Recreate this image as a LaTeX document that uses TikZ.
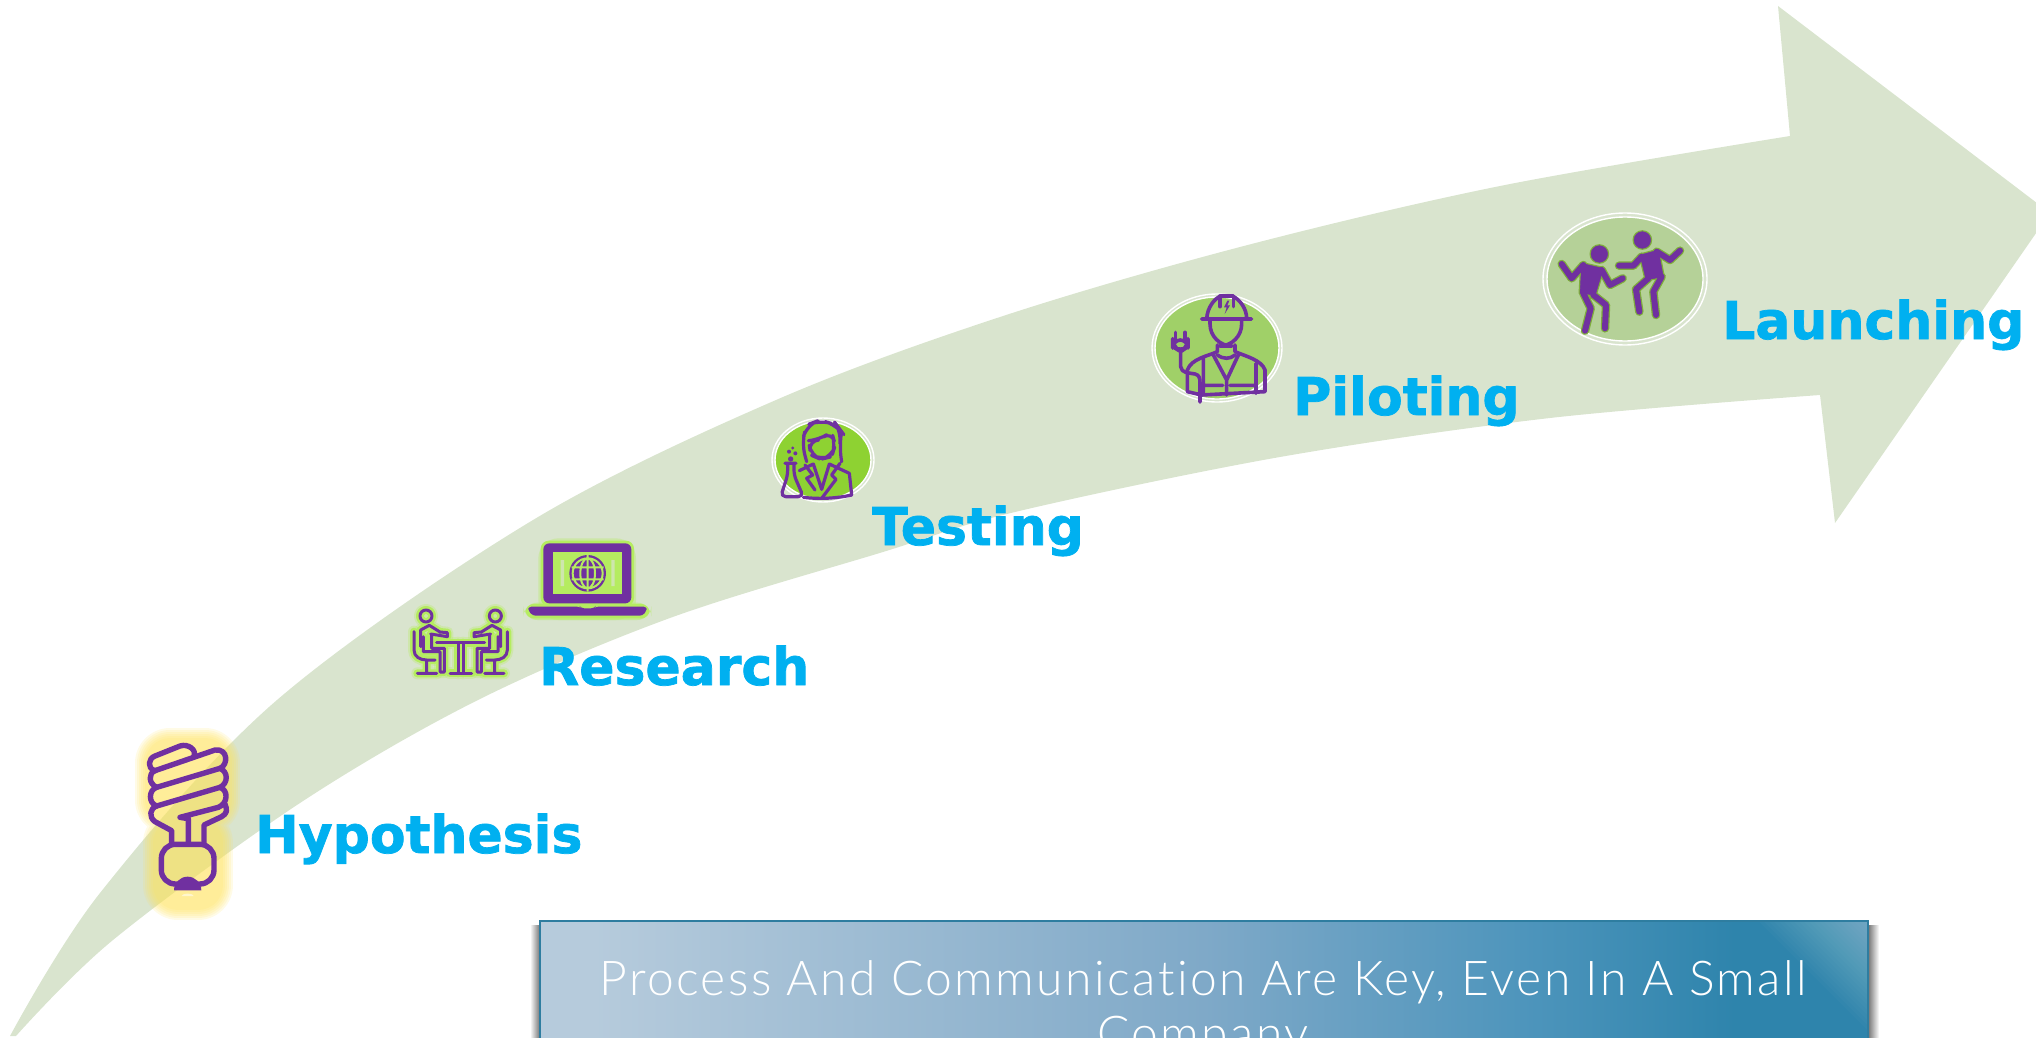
\documentclass[tikz,border=0pt]{standalone}
\usepackage{fontspec}
\setmainfont{DejaVu Sans}[BoldFont=DejaVu Sans Bold, BoldFeatures={FakeBold=1.4}]
\newfontfamily\bannerfont{Lato Light}[LetterSpace=5.0, Ligatures=CommonOff]
\definecolor{arrowgreen}{HTML}{D9E4CE}
\definecolor{iconpurple}{HTML}{7030A0}
\definecolor{labelblue}{HTML}{00B0F0}
\definecolor{glowyellow}{HTML}{FFE25A}
\definecolor{glowlime}{HTML}{B5EC60}
\definecolor{dancerolive}{HTML}{7FAE3C}
\definecolor{bannerA}{HTML}{B6CBDC}
\definecolor{bannerB}{HTML}{7FA9C8}
\definecolor{bannerC}{HTML}{4E95BC}
\definecolor{bannerD}{HTML}{2E84AC}
\definecolor{bannerline}{HTML}{2E7DA0}
\definecolor{testingfill}{HTML}{8ED232}
\definecolor{pilotingfill}{HTML}{A0D068}
\definecolor{launchingfill}{HTML}{B5D198}
\pgfdeclarehorizontalshading{bannershade}{100bp}{color(0bp)=(bannerA); color(27bp)=(bannerA); color(50bp)=(bannerB); color(62bp)=(bannerC); color(70bp)=(bannerD); color(100bp)=(bannerD)}
\tikzset{
  stagelabel/.style={anchor=base west, text=labelblue, font=\fontsize{52}{52}\selectfont\bfseries, inner sep=0pt},
  bannertext/.style={anchor=base, text=white, font=\bannerfont\fontsize{48}{55}\selectfont, inner sep=0pt},
  iconline/.style={draw=iconpurple, line width=#1, line cap=round, line join=round},
  iconline/.default=3.6pt,
  ringfill/.style={draw=white, line width=1.4pt},
  ringout/.style={draw=white, line width=1.4pt},
}
\newcommand{\sitterpath}[1]{
  \draw[#1] (108,288) circle (18);
  \draw[#1] (72,335) -- (72,390) .. controls (72,410) and (90,420) .. (110,420) -- (135,420) (110,420) -- (110,460) (82,460) -- (140,460);
  \draw[#1] (92,380) -- (92,330) -- (118,316) -- (150,336) -- (172,338) -- (172,350) -- (122,342) (100,350) -- (100,395) -- (150,395) -- (150,456) -- (163,456) -- (163,385) -- (125,385) -- (125,345);
}
\newcommand{\peopleicon}[1]{
  \sitterpath{#1}
  \begin{scope}[shift={(424,0)},xscale=-1]
  \sitterpath{#1}
  \end{scope}
  \draw[#1] (140,368) -- (284,368) (205,368) -- (205,460) (220,368) -- (220,460) (180,460) -- (245,460);
}
\newcommand{\bulbicon}[1]{
  \draw[#1] (165,212) .. controls (140,205) and (145,175) .. (165,168) -- (240,138) .. controls (265,130) and (290,150) .. (282,168);
  \draw[#1] (165,212) -- (345,150) .. controls (385,145) and (385,195) .. (360,205) .. controls (385,215) and (385,250) .. (360,262) .. controls (385,270) and (385,310) .. (355,322) -- (240,352) -- (265,356) -- (265,432);
  \draw[#1] (165,212) .. controls (145,220) and (145,250) .. (170,262) .. controls (145,270) and (145,310) .. (170,318) .. controls (150,325) and (145,350) .. (165,365) -- (215,392) -- (215,432);
  \draw[#1] (170,262) -- (360,205) (170,318) -- (360,262);
  \draw[#1] (312,432) -- (312,375) -- (365,350) .. controls (382,340) and (382,330) .. (375,312);
  \draw[#1, rounded corners=14] (184,433) -- (342,433) -- (342,552) -- (184,552) -- cycle;
}
\newcommand{\dancericon}[3]{
  \draw[draw=#1, fill=iconpurple, line width=#2, line join=round] (238,162) circle (25) (367,120) circle (25);
  \draw[draw=#1, fill=iconpurple, line width=#2, line join=round] (185,190) -- (250,205) -- (226,285) -- (180,280) -- cycle;
  \draw[draw=#1, fill=iconpurple, line width=#2, line join=round] (360,165) -- (415,150) -- (430,230) -- (378,240) -- cycle;
  \draw[draw=#1, line width=#3, line cap=round, line join=round] (125,192) -- (155,235) -- (190,195) (245,210) -- (270,255) -- (308,235)
    (190,280) -- (212,325) -- (195,392) (220,285) -- (258,315) -- (255,385);
  \draw[draw=#1, line width=#3, line cap=round, line join=round] (297,197) -- (340,197) -- (365,170) (410,155) -- (450,180) -- (480,152)
    (425,230) -- (400,275) -- (408,345) (385,235) -- (348,268) -- (358,335);
}
\begin{document}
\begin{tikzpicture}[x=1pt,y=-1pt]
\useasboundingbox (0,0) rectangle (2036,1038);
\clip (0,0) rectangle (2036,1038);

\fill[arrowgreen] plot[smooth, tension=0.55] coordinates {(10,1036) (100,893) (277,700) (533,520) (776,400) (1000,317) (1240,247) (1500,186) (1790,136)}
  -- (1778,6) -- (2050,213) -- (1835,523) -- (1820,395)
  -- plot[smooth, tension=0.55] coordinates {(1820,395) (1550,418) (1280,457) (1015,512) (883,552) (670,618) (478,700) (300,803) (113,940) (16,1036)} -- cycle;

% bulb
\begin{scope}[shift={(100,700)},scale=1/3]
\foreach \w in {70,66,62,58,54,50}{
  \draw[glowyellow, opacity=0.15, line width=\w pt, line cap=round, line join=round] (210,190) -- (315,190) -- (315,300) -- (210,300) -- cycle (235,430) -- (295,430) -- (295,555) -- (235,555) -- cycle (265,300) -- (265,430);
}
\bulbicon{iconline=5.4pt}
\fill[iconpurple] (222,571) -- (304,571) arc (0:180:41 and -41) -- cycle;
\fill[white!70!glowyellow] (245,588) -- (281,588) arc (0:180:18 and -7) -- cycle;
\end{scope}

% people and laptop
\begin{scope}[shift={(390,520)},scale=1/3]
\peopleicon{draw=glowlime, opacity=0.3, line width=12pt, line cap=round, line join=round}
\peopleicon{draw=glowlime, line width=8pt, line cap=round, line join=round}
\peopleicon{iconline=3pt}
\fill[glowlime, opacity=0.35, rounded corners=20] (445,55) rectangle (738,300);
\fill[glowlime, opacity=0.5, rounded corners=14] (400,248) rectangle (784,300);
\fill[glowlime, rounded corners=8] (452,62) rectangle (732,258);
\fill[glowlime, rounded corners=8] (407,252) rectangle (778,295);
\fill[iconpurple, rounded corners=6] (460,70) rectangle (724,250);
\fill[glowlime] (488,97) rectangle (697,222);
\fill[arrowgreen, opacity=0.7] (512,120) rectangle (522,198) (664,120) rectangle (674,198);
\fill[iconpurple, rounded corners=3] (415,260) -- (570,260) -- (574,265) -- (612,265) -- (616,260) -- (770,260) -- (770,272) -- (758,287) -- (428,287) -- (415,272) -- cycle;
\fill[iconpurple] (593,160) circle (55);
\draw[glowlime, line width=2pt] (593,160) circle (45) (593,160) ellipse (22 and 45) (593,105) -- (593,215) (545,142) -- (641,142) (545,178) -- (641,178);
\end{scope}

% testing
\draw[ringout] (823,460) ellipse (51 and 42);
\fill[ringfill, fill=testingfill] (823,460) ellipse (48 and 39);
\begin{scope}[shift={(750,400)},scale=1/3]
\draw[iconline=3.2pt, rounded corners=12] (170,185) -- (155,130) -- (170,75) -- (210,60) -- (260,75) -- (275,95) -- (268,140) -- (275,185);
\draw[iconline=3.2pt, rounded corners=10] (176,122) -- (205,120) -- (245,95) -- (256,135) -- (245,170) -- (212,178) -- (182,165) -- cycle;
\draw[iconline=3.2pt] (148,212) -- (190,192) -- (215,268) -- (238,192) -- (298,220) -- (305,285);
\draw[iconline=3.2pt] (165,195) -- (188,225) -- (170,235) -- (195,270) (270,190) -- (245,225) -- (258,238) -- (215,295);
\draw[iconline=3.2pt] (160,292) .. controls (210,298) and (260,295) .. (305,285);
\draw[iconline=3.2pt, rounded corners=5] (105,190) -- (138,190) (113,190) -- (113,225) -- (92,290) -- (160,290) -- (132,225) -- (132,190);
\fill[iconpurple] (122,177) circle (8) (117,155) circle (6) (136,160) circle (6) (128,144) circle (5);
\end{scope}

% piloting
\draw[ringout] (1217,348) ellipse (65 and 54);
\fill[ringfill, fill=pilotingfill] (1217,348) ellipse (62 and 51);
\begin{scope}[shift={(1130,280)},scale=1/3]
\draw[iconline=3.6pt] (215,117) -- (365,117) (230,117) .. controls (232,80) and (255,55) .. (272,48) -- (308,48) .. controls (330,60) and (350,85) .. (350,117);
\draw[iconline=3.6pt] (270,48) -- (270,80) (310,48) -- (310,80);
\fill[iconpurple] (292,62) -- (282,82) -- (290,82) -- (284,102) -- (300,76) -- (292,76) -- (298,62) -- cycle;
\draw[iconline=3.6pt, rounded corners=22] (240,120) -- (240,198) -- (335,198) -- (335,120);
\draw[iconline=3.6pt] (262,195) -- (262,215) .. controls (235,228) and (185,235) .. (172,270) -- (172,335) -- (215,345) -- (405,335) -- (405,270) .. controls (395,240) and (345,228) .. (315,215) -- (315,195);
\draw[iconline=3.6pt] (262,225) .. controls (280,238) and (300,238) .. (315,225);
\draw[iconline=3.6pt] (220,235) -- (220,340) (250,225) -- (290,300) -- (325,225) (290,300) -- (290,345) (378,250) -- (378,340) (220,316) -- (278,316) (300,316) -- (378,316);
\draw[iconline=3.6pt] (137,157) -- (137,180) (165,157) -- (165,180);
\draw[iconline=3.6pt, rounded corners=8] (128,180) -- (174,180) -- (174,200) -- (152,215) -- (128,200) -- cycle;
\draw[iconline=3.6pt] (152,215) -- (152,260) .. controls (155,280) and (175,278) .. (195,282) .. controls (208,285) and (210,295) .. (210,310) -- (210,366);
\end{scope}

% launching
\draw[ringout] (1625,279) ellipse (82 and 66);
\fill[ringfill, fill=launchingfill] (1625,279) ellipse (78 and 62);
\begin{scope}[shift={(1520,200)},scale=1/3]
\dancericon{dancerolive}{3pt}{8.5pt}
\dancericon{iconpurple}{0.4pt}{6pt}
\end{scope}

\node[stagelabel] (hypothesis) at (255,853) {Hypothesis};
\node[stagelabel] (research) at (539,685) {Research};
\node[stagelabel] (testing) at (872,545) {Testing};
\node[stagelabel] (piloting) at (1293,415) {Piloting};
\node[stagelabel] (launching) at (1722,339) {Launching};

% banner
\shade[left color=white, right color=black!55] (530,925) rectangle (540,1050);
\shade[left color=black!55, right color=white] (1868,925) rectangle (1879,1050);
\shade[shading=bannershade] (540,921) rectangle (1868,1050);
\foreach \d in {5,10,...,110}{
  \fill[white, opacity=0.02] (1868,921) -- (1868-\d,921) -- (1868,921+\d) -- cycle;
}
\draw[bannerline, line width=2.5pt] (540,1050) -- (540,921) -- (1868,921) -- (1868,1050);
\node[bannertext] (banner) at (1203,995) {Process And Communication Are Key, Even In A Small};
\node[bannertext] (bannerlast) at (1203,1050) {Company};
\end{tikzpicture}
\end{document}
